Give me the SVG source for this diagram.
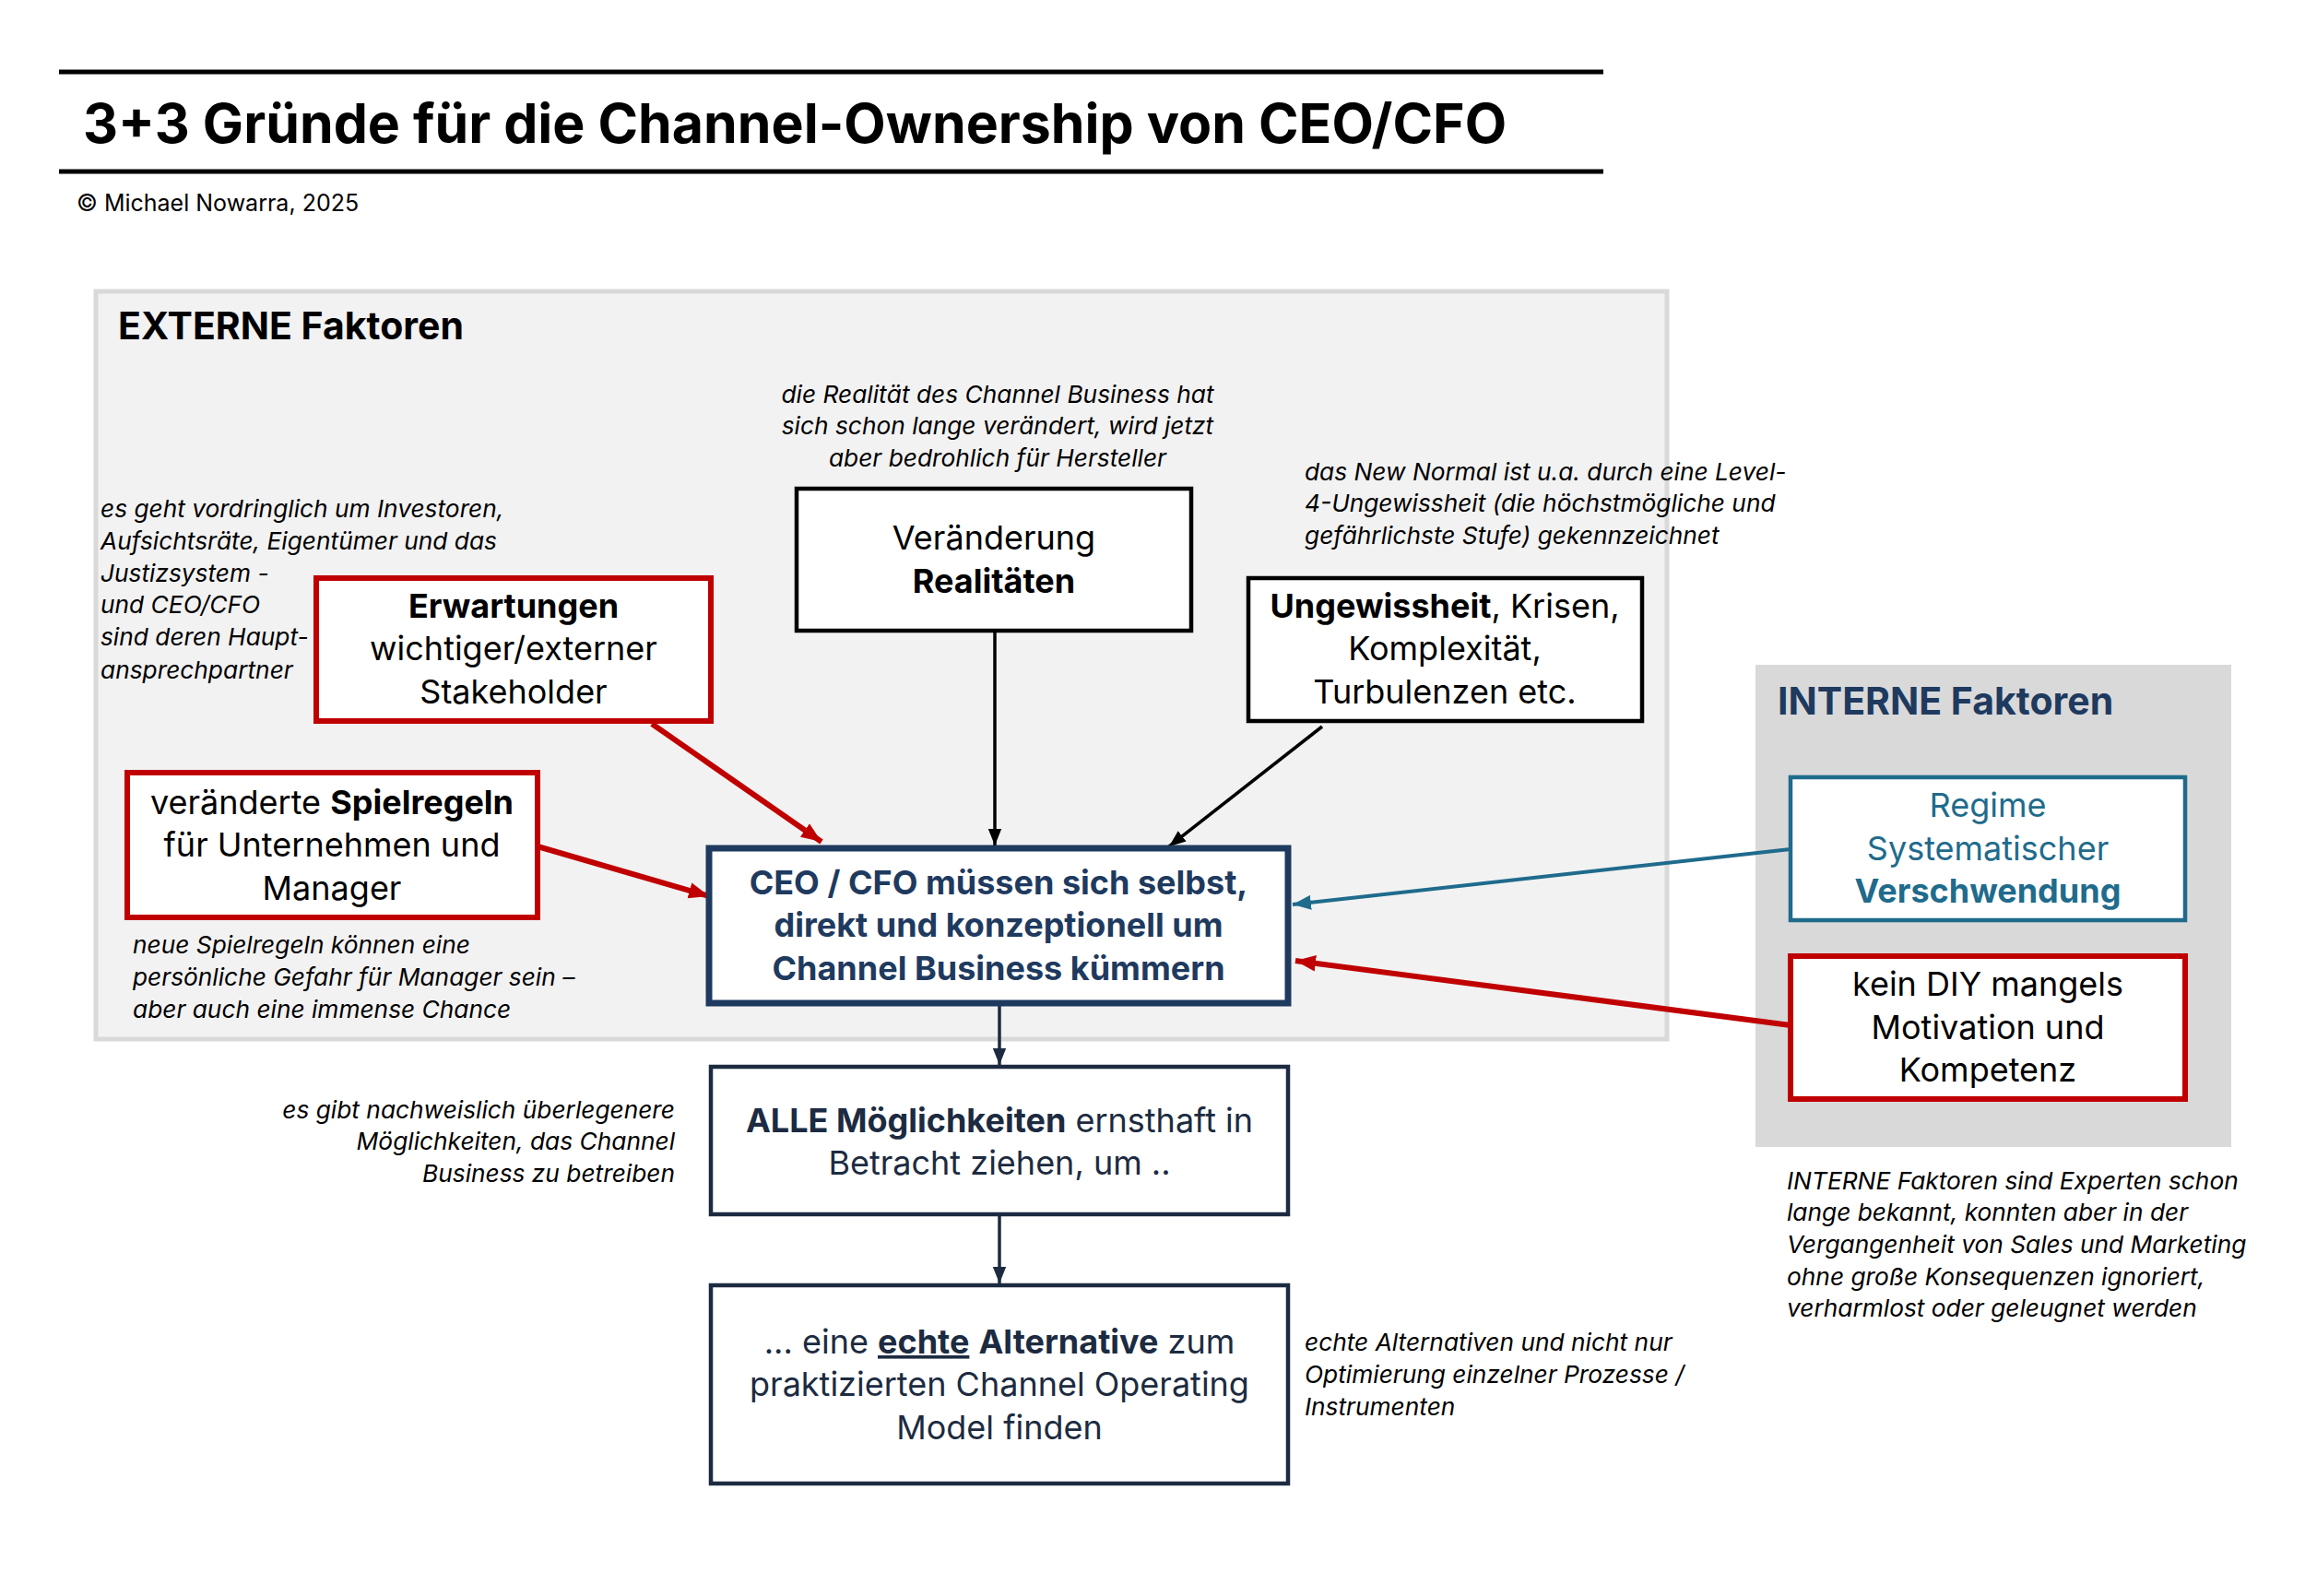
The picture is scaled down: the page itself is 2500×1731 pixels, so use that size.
<svg xmlns="http://www.w3.org/2000/svg" width="2500" height="1731" viewBox="0 0 2500 1731">
<defs>
<style>
text{font-family:Inter,"Open Sans","Liberation Sans",sans-serif;}
.title{font-size:59px;font-weight:700;fill:#000;}
.copy{font-size:25px;fill:#000;}
.sec{font-size:41px;font-weight:700;}
.box{font-size:36px;text-anchor:middle;fill:#000;}
.b{font-weight:700;}
.note{font-size:26.3px;font-style:italic;fill:#000;}
.n{fill:#fff;}
</style>
<marker id="ar" viewBox="0 0 20 16" refX="20" refY="8" markerWidth="22" markerHeight="18" markerUnits="userSpaceOnUse" orient="auto"><path d="M0,0 L20,8 L0,16 z" fill="#c00000"/></marker>
<marker id="ak" viewBox="0 0 20 16" refX="20" refY="8" markerWidth="18" markerHeight="15" markerUnits="userSpaceOnUse" orient="auto"><path d="M0,0 L20,8 L0,16 z" fill="#000"/></marker>
<marker id="at" viewBox="0 0 20 16" refX="20" refY="8" markerWidth="20" markerHeight="16" markerUnits="userSpaceOnUse" orient="auto"><path d="M0,0 L20,8 L0,16 z" fill="#1f6b8c"/></marker>
<marker id="an" viewBox="0 0 20 16" refX="20" refY="8" markerWidth="18" markerHeight="15" markerUnits="userSpaceOnUse" orient="auto"><path d="M0,0 L20,8 L0,16 z" fill="#1c2b41"/></marker>
</defs>
<rect x="0" y="0" width="2500" height="1731" fill="#fff"/>
<g id="header">
<line x1="64" y1="78" x2="1739" y2="78" stroke="#000" stroke-width="5"/>
<text class="title" x="90" y="155">3+3 Gründe für die Channel-Ownership von CEO/CFO</text>
<line x1="64" y1="186" x2="1739" y2="186" stroke="#000" stroke-width="5"/>
<text class="copy" x="83" y="229">© Michael Nowarra, 2025</text>
</g>
<g id="externe">
<rect x="104" y="316" width="1704" height="811" fill="#f2f2f2" stroke="#d9d9d9" stroke-width="5"/>
<text class="sec" x="128" y="368" fill="#000">EXTERNE Faktoren</text>
</g>
<g id="interne">
<rect x="1904" y="721" width="516" height="523" fill="#d9d9d9"/>
<text class="sec" x="1928" y="775" fill="#1f3a5f">INTERNE Faktoren</text>
</g>
<g id="notes">
<text class="note" text-anchor="middle"><tspan x="1082" y="437">die Realität des Channel Business hat</tspan><tspan x="1082" y="471">sich schon lange verändert, wird jetzt</tspan><tspan x="1082" y="506">aber bedrohlich für Hersteller</tspan></text>
<text class="note"><tspan x="1415" y="521">das New Normal ist u.a. durch eine Level-</tspan><tspan x="1415" y="555">4-Ungewissheit (die höchstmögliche und</tspan><tspan x="1415" y="590">gefährlichste Stufe) gekennzeichnet</tspan></text>
<text class="note"><tspan x="109" y="561">es geht vordringlich um Investoren,</tspan><tspan x="109" y="596">Aufsichtsräte, Eigentümer und das</tspan><tspan x="109" y="631">Justizsystem -</tspan><tspan x="109" y="665">und CEO/CFO</tspan><tspan x="109" y="700">sind deren Haupt-</tspan><tspan x="109" y="736">ansprechpartner</tspan></text>
<text class="note"><tspan x="144" y="1034">neue Spielregeln können eine</tspan><tspan x="144" y="1069">persönliche Gefahr für Manager sein –</tspan><tspan x="144" y="1104">aber auch eine immense Chance</tspan></text>
<text class="note" text-anchor="end"><tspan x="732" y="1213">es gibt nachweislich überlegenere</tspan><tspan x="732" y="1247">Möglichkeiten, das Channel</tspan><tspan x="732" y="1282">Business zu betreiben</tspan></text>
<text class="note"><tspan x="1415" y="1465">echte Alternativen und nicht nur</tspan><tspan x="1415" y="1500">Optimierung einzelner Prozesse /</tspan><tspan x="1415" y="1535">Instrumenten</tspan></text>
<text class="note"><tspan x="1938" y="1290">INTERNE Faktoren sind Experten schon</tspan><tspan x="1938" y="1324">lange bekannt, konnten aber in der</tspan><tspan x="1938" y="1359">Vergangenheit von Sales und Marketing</tspan><tspan x="1938" y="1394">ohne große Konsequenzen ignoriert,</tspan><tspan x="1938" y="1428">verharmlost oder geleugnet werden</tspan></text>
</g>
<g id="connectors" fill="none">
<line x1="707" y1="785" x2="891" y2="913" stroke="#c00000" stroke-width="6" marker-end="url(#ar)"/>
<line x1="1079" y1="686" x2="1079" y2="917" stroke="#000" stroke-width="3.5" marker-end="url(#ak)"/>
<line x1="1434" y1="788" x2="1268" y2="918" stroke="#000" stroke-width="3.5" marker-end="url(#ak)"/>
<line x1="583" y1="918" x2="769" y2="972" stroke="#c00000" stroke-width="6" marker-end="url(#ar)"/>
<line x1="1942" y1="921" x2="1402" y2="981" stroke="#1f6b8c" stroke-width="4" marker-end="url(#at)"/>
<line x1="1942" y1="1112" x2="1405" y2="1042" stroke="#c00000" stroke-width="6" marker-end="url(#ar)"/>
<line x1="1084" y1="1090" x2="1084" y2="1155" stroke="#1c2b41" stroke-width="3.5" marker-end="url(#an)"/>
<line x1="1084" y1="1319" x2="1084" y2="1392" stroke="#1c2b41" stroke-width="3.5" marker-end="url(#an)"/>
</g>
<g id="erwartungen">
<rect class="n" x="343" y="627" width="428" height="155" stroke="#c00000" stroke-width="6"/>
<text class="box"><tspan x="557" y="670" class="b">Erwartungen</tspan><tspan x="557" y="716">wichtiger/externer</tspan><tspan x="557" y="763">Stakeholder</tspan></text>
</g>
<g id="veraenderung">
<rect class="n" x="864" y="530" width="428" height="154" stroke="#000" stroke-width="4.5"/>
<text class="box"><tspan x="1078" y="596">Veränderung</tspan><tspan x="1078" y="643" class="b">Realitäten</tspan></text>
</g>
<g id="ungewissheit">
<rect class="n" x="1354" y="627" width="427" height="155" stroke="#000" stroke-width="4.5"/>
<text class="box"><tspan x="1567" y="670"><tspan class="b">Ungewissheit</tspan>, Krisen,</tspan><tspan x="1567" y="716">Komplexität,</tspan><tspan x="1567" y="763">Turbulenzen etc.</tspan></text>
</g>
<g id="spielregeln">
<rect class="n" x="138" y="838" width="445" height="157" stroke="#c00000" stroke-width="6"/>
<text class="box"><tspan x="360" y="883">veränderte <tspan class="b">Spielregeln</tspan></tspan><tspan x="360" y="929">für Unternehmen und</tspan><tspan x="360" y="976">Manager</tspan></text>
</g>
<g id="ceo">
<rect class="n" x="769" y="920" width="628" height="168" stroke="#1f3a5f" stroke-width="7"/>
<text class="box b" style="fill:#1f3a5f"><tspan x="1083" y="970">CEO / CFO müssen sich selbst,</tspan><tspan x="1083" y="1016">direkt und konzeptionell um</tspan><tspan x="1083" y="1063">Channel Business kümmern</tspan></text>
</g>
<g id="alle">
<rect class="n" x="771" y="1157" width="626" height="160" stroke="#1c2b41" stroke-width="4.5"/>
<text class="box" style="fill:#1c2b41"><tspan x="1084" y="1228"><tspan class="b">ALLE Möglichkeiten</tspan> ernsthaft in</tspan><tspan x="1084" y="1274">Betracht ziehen, um ..</tspan></text>
</g>
<g id="alternative">
<rect class="n" x="771" y="1394" width="626" height="215" stroke="#1c2b41" stroke-width="4.5"/>
<text class="box" style="fill:#1c2b41"><tspan x="1084" y="1468">... eine <tspan class="b" text-decoration="underline">echte</tspan> <tspan class="b">Alternative</tspan> zum</tspan><tspan x="1084" y="1514">praktizierten Channel Operating</tspan><tspan x="1084" y="1561">Model finden</tspan></text>
</g>
<g id="regime">
<rect class="n" x="1942" y="843" width="428" height="155" stroke="#1f6b8c" stroke-width="4.5"/>
<text class="box" style="fill:#1f6b8c"><tspan x="2156" y="886">Regime</tspan><tspan x="2156" y="933">Systematischer</tspan><tspan x="2156" y="979" class="b">Verschwendung</tspan></text>
</g>
<g id="diy">
<rect class="n" x="1942" y="1037" width="428" height="155" stroke="#c00000" stroke-width="6"/>
<text class="box"><tspan x="2156" y="1080">kein DIY mangels</tspan><tspan x="2156" y="1127">Motivation und</tspan><tspan x="2156" y="1173">Kompetenz</tspan></text>
</g>
</svg>
